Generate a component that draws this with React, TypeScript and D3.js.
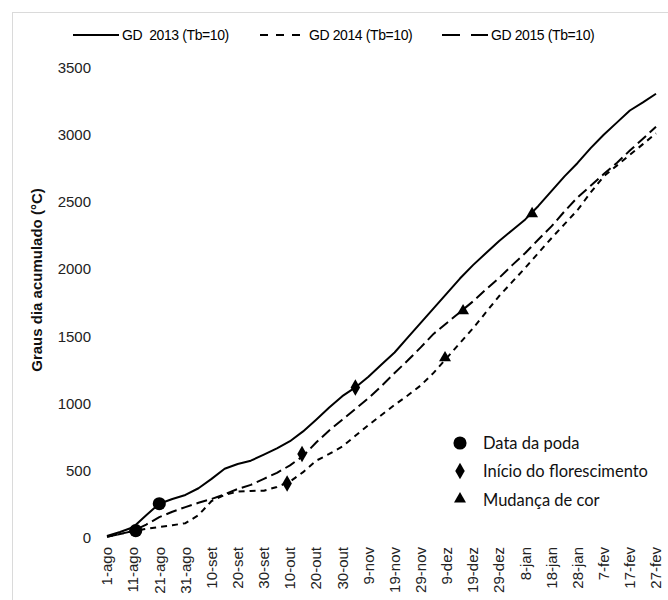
import React from 'react';
import * as d3 from 'd3';

// graus dia acumulados, um ponto a cada 5 dias desde 1-ago
const dias = [0, 5, 10, 15, 20, 25, 30, 35, 40, 45, 50, 55, 60, 65, 70, 75, 80, 85, 90, 95, 100,
  105, 110, 115, 120, 125, 130, 135, 140, 145, 150, 155, 160, 165, 170, 175, 180, 185, 190, 195, 200, 205, 210];
const gd2013 = [15, 45, 80, 170, 255, 290, 320, 370, 440, 515, 550, 575, 620, 667, 720, 793, 880, 970, 1055, 1120, 1200,
  1290, 1380, 1490, 1600, 1710, 1820, 1930, 2030, 2120, 2210, 2290, 2370, 2470, 2580, 2690, 2790, 2900, 3000, 3090, 3180, 3240, 3305];
const gd2014 = [10, 30, 52, 68, 82, 95, 110, 170, 275, 320, 345, 350, 352, 380, 420, 490, 575, 625, 680, 760, 840,
  915, 990, 1060, 1135, 1230, 1340, 1450, 1560, 1680, 1800, 1905, 2010, 2120, 2230, 2335, 2440, 2570, 2690, 2770, 2850, 2930, 3010];
const gd2015 = [10, 30, 52, 100, 155, 195, 230, 262, 290, 325, 365, 395, 440, 485, 540, 610, 710, 800, 880, 960, 1040,
  1130, 1228, 1320, 1418, 1520, 1600, 1680, 1760, 1850, 1935, 2030, 2120, 2220, 2318, 2430, 2534, 2620, 2707, 2790, 2882, 2970, 3060];

const diasRotulos = [0, 10, 20, 30, 40, 50, 60, 70, 80, 90, 100, 110, 120, 130, 140, 150, 160, 170, 180, 190, 200, 210];
const rotulosX = ['1-ago', '11-ago', '21-ago', '31-ago', '10-set', '20-set', '30-set', '10-out', '20-out', '30-out',
  '9-nov', '19-nov', '29-nov', '9-dez', '19-dez', '29-dez', '8-jan', '18-jan', '28-jan', '7-fev', '17-fev', '27-fev'];
const ticksY = [0, 500, 1000, 1500, 2000, 2500, 3000, 3500];

// eventos fenologicos (dia, graus dia)
const poda = [{ dia: 20, gd: 255 }, { dia: 11, gd: 55 }];
const florescimento = [{ dia: 95, gd: 1120 }, { dia: 74.6, gd: 625 }, { dia: 68.9, gd: 405 }];
const mudancaCor = [{ dia: 162.6, gd: 2412 }, { dia: 136.2, gd: 1690 }, { dia: 129.3, gd: 1340 }];

const series = [
  { nome: 'GD  2013 (Tb=10)', valores: gd2013, dash: null, dashLeg: null },
  { nome: 'GD 2014 (Tb=10)', valores: gd2014, dash: '6,5', dashLeg: '8,8' },
  { nome: 'GD 2015 (Tb=10)', valores: gd2015, dash: '11,5', dashLeg: '18,11' },
];

function App() {
  const width = 668, height = 600;
  const x = d3.scaleLinear().domain([0, 210]).range([107, 656]);
  const y = d3.scaleLinear().domain([0, 3500]).range([538, 67.5]);

  const linha = (vals: number[]) =>
    d3.line<number>().x((d, i) => x(dias[i])).y(d => y(d))(vals);

  const circulo = d3.symbol().type(d3.symbolCircle).size(135)();
  const losango = d3.symbol().type(d3.symbolDiamond).size(78)();
  const triangulo = d3.symbol().type(d3.symbolTriangle).size(62)();

  const fonte = 'Arial, "Liberation Sans", sans-serif';
  const legX = [73, 260, 442];

  return (
    <svg width={width} height={height} style={{ position: 'absolute', left: 0, top: 0, background: '#fff' }}>
      {/* moldura */}
      <line x1={12} x2={width} y1={12.5} y2={12.5} stroke="#dadada" />
      <line x1={12.5} x2={12.5} y1={12} y2={height} stroke="#dadada" />

      {/* legenda superior */}
      {series.map((s, i) => (
        <g key={s.nome} transform={`translate(${legX[i]},35)`}>
          <line x1={0} x2={46} y1={0} y2={0} stroke="#000" strokeWidth={2.2}
            strokeDasharray={s.dashLeg || undefined} />
          <text x={49} y={0} dy="0.35em" fontFamily={fonte} fontSize={14}
            style={{ whiteSpace: 'pre' }} letterSpacing={-0.4}>{s.nome}</text>
        </g>
      ))}

      {/* eixo y */}
      {ticksY.map(t => (
        <text key={t} x={91} y={y(t)} dy="0.35em" textAnchor="end" fontFamily={fonte} fontSize={15} fill="#222">{t}</text>
      ))}
      <text transform="translate(37,280) rotate(-90)" textAnchor="middle" dy="0.35em"
        fontFamily={fonte} fontSize={15} fontWeight="bold" fill="#111">Graus dia acumulado (°C)</text>

      {/* eixo x */}
      {diasRotulos.map((d, i) => (
        <text key={d} transform={`translate(${x(d)},547) rotate(-90)`} textAnchor="end" dy="0.35em"
          fontFamily={fonte} fontSize={15} fill="#222">{rotulosX[i]}</text>
      ))}

      {/* curvas */}
      {series.map(s => (
        <path key={s.nome} d={linha(s.valores) || ''} fill="none" stroke="#000" strokeWidth={2}
          strokeDasharray={s.dash || undefined} strokeLinejoin="round" />
      ))}

      {/* marcadores */}
      {poda.map((p, i) => (
        <path key={'p' + i} d={circulo || ''} transform={`translate(${x(p.dia)},${y(p.gd)})`} fill="#000" />
      ))}
      {florescimento.map((p, i) => (
        <path key={'f' + i} d={losango || ''} transform={`translate(${x(p.dia)},${y(p.gd)})`} fill="#000" />
      ))}
      {mudancaCor.map((p, i) => (
        <path key={'m' + i} d={triangulo || ''} transform={`translate(${x(p.dia)},${y(p.gd)})`} fill="#000" />
      ))}

      {/* legenda dos eventos */}
      <g fontFamily='Lato, "Open Sans", sans-serif' fontSize={16.5} fill="#111">
        <path d={circulo || ''} transform="translate(460,443)" fill="#000" />
        <text x={483} y={443} dy="0.35em">Data da poda</text>
        <path d={losango || ''} transform="translate(460,471)" fill="#000" />
        <text x={483} y={471} dy="0.35em">Início do florescimento</text>
        <path d={triangulo || ''} transform="translate(460,499)" fill="#000" />
        <text x={483} y={500} dy="0.35em">Mudança de cor</text>
      </g>
    </svg>
  );
}

export default App;
